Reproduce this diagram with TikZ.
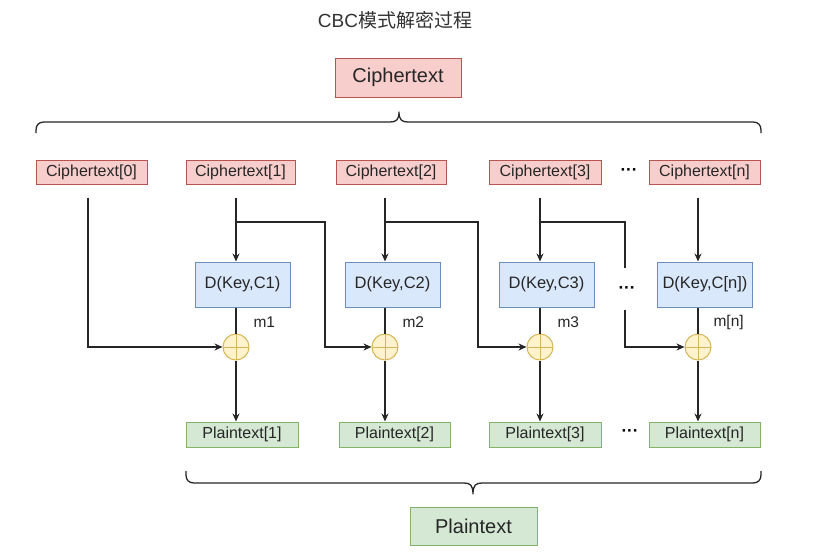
\documentclass[tikz,border=0pt]{standalone}
\usepackage{fontspec}
\setmainfont{Liberation Sans}
\newfontfamily\cjk{Noto Sans CJK SC}
\usetikzlibrary{arrows.meta}
\definecolor{redfill}{HTML}{F8CECC}
\definecolor{redline}{HTML}{B85450}
\definecolor{bluefill}{HTML}{DAE8FC}
\definecolor{blueline}{HTML}{6C8EBF}
\definecolor{greenfill}{HTML}{D5E8D4}
\definecolor{greenline}{HTML}{82B366}
\definecolor{yelfill}{HTML}{FFF2CC}
\definecolor{yelline}{HTML}{D6B656}
\definecolor{txt}{HTML}{262626}
\tikzset{
  cbox/.style={draw=redline,fill=redfill,line width=1pt,inner sep=0pt,text=txt,font=\fontsize{16}{18}\selectfont},
  dbox/.style={draw=blueline,fill=bluefill,line width=1pt,inner sep=0pt,minimum width=95pt,minimum height=45pt,text=txt,font=\fontsize{16.5}{18}\selectfont},
  pbox/.style={draw=greenline,fill=greenfill,line width=1pt,inner sep=0pt,minimum height=25pt,text=txt,font=\fontsize{16}{18}\selectfont},
  xorc/.style={circle,draw=yelline,fill=yelfill,line width=1pt,minimum size=26pt,inner sep=0pt,
    path picture={\draw[yelline,line width=0.8pt] (path picture bounding box.north) -- (path picture bounding box.south)
      (path picture bounding box.west) -- (path picture bounding box.east);}},
  conn/.style={line width=1.2pt,draw=black!85},
  arr/.style={conn,-{Stealth[length=8pt,width=7pt]}},
  bracepath/.style={line width=1.3pt,draw=black!85,line join=round},
  lbl/.style={text=txt,font=\fontsize{15.5}{18}\selectfont},
  dots/.style={text=black,font=\bfseries\fontsize{17}{18}\selectfont},
}
\begin{document}
\begin{tikzpicture}[x=1pt,y=-1pt]
\useasboundingbox (0,0) rectangle (815,557);
\fill[white] (0,0) rectangle (815,557);
% title
\node[text=black!80,font=\fontsize{19}{22}\selectfont] (title) at (395,20) {CBC{\cjk 模式解密过程}};
% big ciphertext
\node[cbox,minimum width=126pt,minimum height=39pt,font=\fontsize{20}{22}\selectfont] (C) at (398,77.5) {Ciphertext};
% top brace
\draw[bracepath] (36,133) -- (36,130) .. controls (36,125) and (39,122) .. (44,122) -- (390,122)
  .. controls (396,122) and (399,120) .. (399,112) .. controls (399,120) and (402,122) .. (408,122)
  -- (753,122) .. controls (758,122) and (761,125) .. (761,130) -- (761,133);
% ciphertext blocks
\node[cbox,minimum width=111pt,minimum height=24pt] (c0) at (91.5,172) {Ciphertext[0]};
\node[cbox,minimum width=109pt,minimum height=24pt] (c1) at (240.5,172) {Ciphertext[1]};
\node[cbox,minimum width=110pt,minimum height=24pt] (c2) at (391,172) {Ciphertext[2]};
\node[cbox,minimum width=112pt,minimum height=24pt] (c3) at (545,172) {Ciphertext[3]};
\node[cbox,minimum width=111pt,minimum height=24pt] (cn) at (704.5,172) {Ciphertext[n]};
\node[dots] (dc) at (629,172) {···};
% decrypt boxes
\node[dbox] (D1) at (242.5,284.5) {D(Key,C1)};
\node[dbox] (D2) at (392.5,284.5) {D(Key,C2)};
\node[dbox] (D3) at (546.5,284.5) {D(Key,C3)};
\node[dbox] (Dn) at (705,284.5) {D(Key,C[n])};
\node[dots] (dd) at (627,290) {···};
% xor
\node[xorc] (X1) at (236,347) {};
\node[xorc] (X2) at (385,347) {};
\node[xorc] (X3) at (540,347) {};
\node[xorc] (Xn) at (698,347) {};
% labels
\node[lbl,anchor=west] (m1) at (250,322) {m1};
\node[lbl,anchor=west] (m2) at (399,322) {m2};
\node[lbl,anchor=west] (m3) at (554,322) {m3};
\node[lbl,anchor=west] (mn) at (710,322) {m[n]};
% plaintext blocks
\node[pbox,minimum width=112pt] (P1) at (242,434.5) {Plaintext[1]};
\node[pbox,minimum width=111pt] (P2) at (394.5,434.5) {Plaintext[2]};
\node[pbox,minimum width=112pt] (P3) at (545,434.5) {Plaintext[3]};
\node[pbox,minimum width=111pt] (Pn) at (704.5,434.5) {Plaintext[n]};
\node[dots] (dp) at (630,433) {···};
% bottom brace
\draw[bracepath] (186,471) -- (186,475) .. controls (186,480) and (189,483) .. (194,483) -- (464,483)
  .. controls (470,483) and (473,485) .. (473,494) .. controls (473,485) and (476,483) .. (482,483)
  -- (753,483) .. controls (758,483) and (761,480) .. (761,475) -- (761,471);
\node[pbox,minimum width=127pt,minimum height=38pt,font=\fontsize{20}{22}\selectfont] (P) at (473.5,526) {Plaintext};
% coordinates for branches
\coordinate (b1) at (236,222);
\coordinate (t1) at (325,222);
\coordinate (b2) at (385,222);
\coordinate (t2) at (478,222);
\coordinate (b3) at (540,222);
\coordinate (t3) at (625,222);
\coordinate (g3a) at (625,268);
\coordinate (g3b) at (625,310);
% connectors
\draw[arr,shorten <=13pt] ([xshift=-3.5pt]c0.south) |- (X1.west);
\draw[arr,shorten <=13pt] (c1.south -| X1) -- (D1.north -| X1);
\draw[arr,shorten <=13pt] (c2.south -| X2) -- (D2.north -| X2);
\draw[arr,shorten <=13pt] (c3.south -| X3) -- (D3.north -| X3);
\draw[arr,shorten <=13pt] (cn.south -| Xn) -- (Dn.north -| Xn);
\draw[arr] (b1) -- (t1) |- (X2.west);
\draw[arr] (b2) -- (t2) |- (X3.west);
\draw[conn] (b3) -- (t3) -- (g3a);
\draw[arr] (g3b) |- (Xn.west);
\draw[conn] (D1.south -| X1) -- (X1.north);
\draw[conn] (D2.south -| X2) -- (X2.north);
\draw[conn] (D3.south -| X3) -- (X3.north);
\draw[conn] (Dn.south -| Xn) -- (Xn.north);
\draw[arr] (X1.south) -- (P1.north -| X1);
\draw[arr] (X2.south) -- (P2.north -| X2);
\draw[arr] (X3.south) -- (P3.north -| X3);
\draw[arr] (Xn.south) -- (Pn.north -| Xn);
\end{tikzpicture}
\end{document}
